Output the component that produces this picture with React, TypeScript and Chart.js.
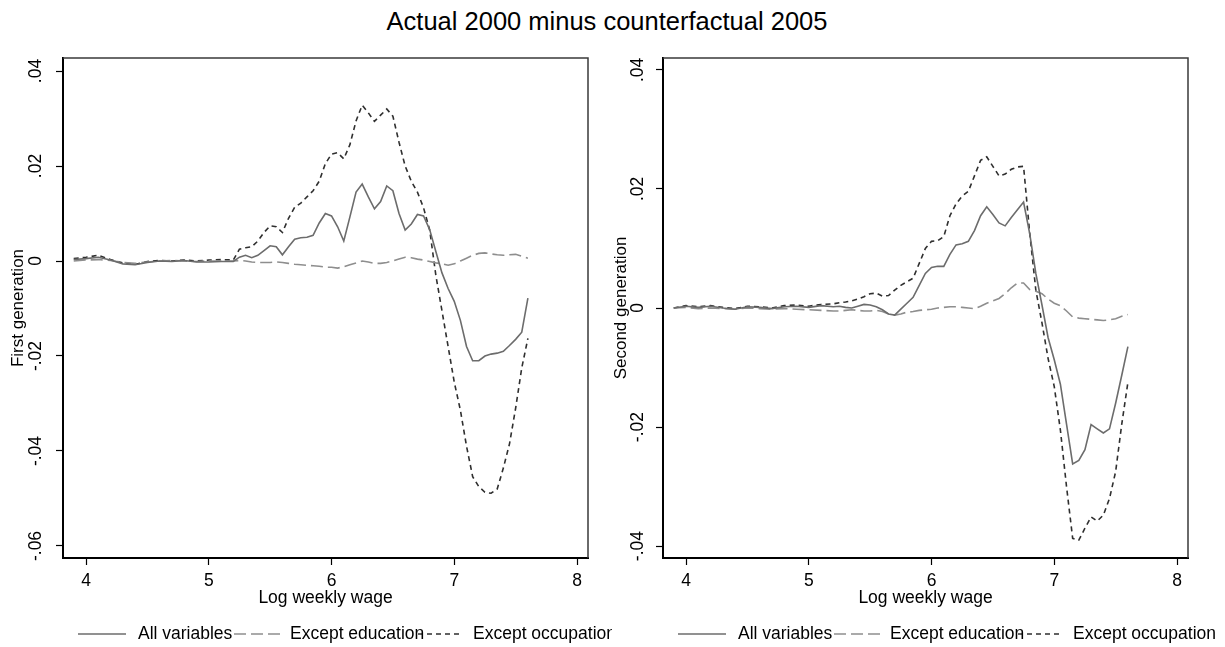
import React, { useEffect, useRef } from 'react';
import { Chart, registerables } from 'chart.js';

Chart.register(...registerables);

const FONT_FAMILY = '"Liberation Sans", Arial, Helvetica, sans-serif';

const chartTitle = 'Actual 2000 minus counterfactual 2005';
const xTitle = 'Log weekly wage';
const seriesLabels = ['All variables', 'Except education', 'Except occupation'];

// Log weekly wage grid (shared by both panels)
const xs = [
  3.9, 4.0, 4.1, 4.2, 4.3, 4.4, 4.5, 4.6, 4.7, 4.8, 4.9, 5.0, 5.1, 5.2,
  5.25, 5.3, 5.35, 5.4, 5.45, 5.5, 5.55, 5.6, 5.65, 5.7, 5.75, 5.8, 5.85, 5.9, 5.95,
  6.0, 6.05, 6.1, 6.15, 6.2, 6.25, 6.3, 6.35, 6.4, 6.45, 6.5, 6.55, 6.6, 6.65, 6.7, 6.75,
  6.8, 6.85, 6.9, 6.95, 7.0, 7.05, 7.1, 7.15, 7.2, 7.25, 7.3, 7.35, 7.4, 7.45, 7.5, 7.55, 7.6,
];

// First generation
const firstAll = [
  0.0003, 0.0005, 0.0008, 0.0002, -0.0006, -0.0008, -0.0003, 0.0000, -0.0001, 0.0001, -0.0002, -0.0002, -0.0001, -0.0001,
  0.0008, 0.0012, 0.0007, 0.0012, 0.0022, 0.0032, 0.0030, 0.0013, 0.0030, 0.0046, 0.0049, 0.0050, 0.0054, 0.0080, 0.0100,
  0.0095, 0.0072, 0.0042, 0.0093, 0.0145, 0.0162, 0.0135, 0.0110, 0.0125, 0.0158, 0.0148, 0.0100, 0.0065, 0.0078, 0.0098, 0.0095,
  0.0066, 0.0020, -0.0025, -0.0058, -0.0085, -0.0125, -0.0180, -0.0210, -0.0210, -0.0200, -0.0196, -0.0194, -0.0190, -0.0178, -0.0165, -0.0150, -0.0078,
];
const firstExEdu = [
  0.0000, 0.0002, 0.0003, 0.0001, -0.0003, -0.0005, -0.0002, 0.0000, 0.0001, 0.0000, -0.0001, 0.0000, 0.0000, 0.0000,
  0.0001, 0.0000, -0.0002, -0.0003, -0.0003, -0.0003, -0.0002, -0.0003, -0.0005, -0.0007, -0.0008, -0.0009, -0.0010, -0.0011, -0.0013,
  -0.0013, -0.0015, -0.0012, -0.0008, -0.0004, 0.0000, -0.0002, -0.0005, -0.0005, -0.0003, 0.0000, 0.0004, 0.0008, 0.0007, 0.0004, 0.0002,
  -0.0001, -0.0004, -0.0006, -0.0009, -0.0006, 0.0000, 0.0006, 0.0012, 0.0016, 0.0017, 0.0015, 0.0013, 0.0012, 0.0013, 0.0014, 0.0010, 0.0006,
];
const firstExOcc = [
  0.0005, 0.0008, 0.0012, 0.0003, -0.0004, -0.0007, -0.0001, 0.0001, 0.0000, 0.0002, 0.0000, 0.0002, 0.0003, 0.0002,
  0.0025, 0.0028, 0.0030, 0.0042, 0.0060, 0.0074, 0.0072, 0.0060, 0.0090, 0.0113, 0.0122, 0.0135, 0.0148, 0.0168, 0.0205,
  0.0225, 0.0228, 0.0215, 0.0245, 0.0295, 0.0328, 0.0312, 0.0294, 0.0307, 0.0320, 0.0305, 0.0250, 0.0200, 0.0168, 0.0145, 0.0112,
  0.0065, -0.0030, -0.0105, -0.0180, -0.0255, -0.0314, -0.0390, -0.0454, -0.0475, -0.0487, -0.0489, -0.0480, -0.0436, -0.0385, -0.0310, -0.0225, -0.0163,
];

// Second generation
const secondAll = [
  0.0000, 0.0003, 0.0001, 0.0003, 0.0000, -0.0002, 0.0002, 0.0001, -0.0001, 0.0002, 0.0003, 0.0001, 0.0004, 0.0002,
  0.0003, 0.0001, 0.0000, 0.0003, 0.0006, 0.0005, 0.0002, -0.0003, -0.0010, -0.0012, -0.0002, 0.0008, 0.0018, 0.0038, 0.0058,
  0.0068, 0.0070, 0.0070, 0.0090, 0.0106, 0.0108, 0.0112, 0.0130, 0.0155, 0.0170, 0.0157, 0.0143, 0.0138, 0.0152, 0.0165, 0.0178,
  0.0125, 0.0058, 0.0005, -0.0050, -0.0087, -0.0128, -0.0195, -0.0262, -0.0256, -0.0238, -0.0196, -0.0203, -0.0210, -0.0203, -0.0160, -0.0113, -0.0065,
];
const secondExEdu = [
  0.0000, 0.0001, -0.0001, 0.0000, -0.0001, -0.0002, 0.0000, -0.0001, -0.0002, -0.0001, -0.0002, -0.0003, -0.0004, -0.0005,
  -0.0005, -0.0004, -0.0003, -0.0004, -0.0005, -0.0005, -0.0004, -0.0006, -0.0010, -0.0012, -0.0010, -0.0007, -0.0006, -0.0004, -0.0003,
  -0.0002, 0.0000, 0.0001, 0.0002, 0.0002, 0.0001, 0.0000, -0.0001, 0.0003, 0.0008, 0.0012, 0.0016, 0.0024, 0.0034, 0.0042, 0.0042,
  0.0031, 0.0028, 0.0024, 0.0015, 0.0008, 0.0004, -0.0005, -0.0015, -0.0017, -0.0018, -0.0019, -0.0020, -0.0021, -0.0020, -0.0018, -0.0014, -0.0011,
];
const secondExOcc = [
  0.0000, 0.0004, 0.0002, 0.0004, 0.0001, -0.0001, 0.0003, 0.0002, 0.0000, 0.0004, 0.0005, 0.0003, 0.0006, 0.0007,
  0.0009, 0.0010, 0.0012, 0.0015, 0.0019, 0.0024, 0.0025, 0.0020, 0.0021, 0.0030, 0.0038, 0.0044, 0.0050, 0.0075, 0.0100,
  0.0112, 0.0113, 0.0120, 0.0155, 0.0175, 0.0188, 0.0196, 0.0222, 0.0248, 0.0254, 0.0238, 0.0222, 0.0225, 0.0233, 0.0237, 0.0238,
  0.0126, 0.0030, -0.0025, -0.0085, -0.0132, -0.0205, -0.0300, -0.0387, -0.0390, -0.0370, -0.0351, -0.0358, -0.0348, -0.0320, -0.0275, -0.0195, -0.0125,
];

const seriesColors = ['#6c6c6c', '#8e8e8e', '#2f2f2f'];
const seriesDashes: number[][] = [[], [12, 5], [5, 4]];

const fmtTick = (v: number) => {
  if (Math.abs(v) < 1e-9) return '0';
  return v.toFixed(2).replace(/^(-?)0\./, '$1.');
};

const framePlugin = {
  id: 'frame',
  afterDraw(chart: any) {
    const { ctx, chartArea } = chart;
    ctx.save();
    ctx.strokeStyle = '#3a3a3a';
    ctx.lineWidth = 1.5;
    ctx.beginPath();
    ctx.moveTo(chartArea.left, chartArea.top);
    ctx.lineTo(chartArea.right, chartArea.top);
    ctx.lineTo(chartArea.right, chartArea.bottom);
    ctx.stroke();
    ctx.restore();
  },
};

const legendPlugin = {
  id: 'stataLegend',
  afterDraw(chart: any) {
    const { ctx, chartArea } = chart;
    const L = chartArea.left;
    const y = 634;
    const samples = [
      [L + 15, L + 63, L + 75],
      [L + 171, L + 219, L + 227],
      [L + 355, L + 398, L + 410],
    ];
    ctx.save();
    samples.forEach((s, i) => {
      ctx.strokeStyle = seriesColors[i];
      ctx.lineWidth = 1.5;
      ctx.setLineDash(seriesDashes[i]);
      ctx.beginPath();
      ctx.moveTo(s[0], y);
      ctx.lineTo(s[1], y);
      ctx.stroke();
    });
    ctx.setLineDash([]);
    ctx.fillStyle = '#000';
    ctx.font = `17.5px ${FONT_FAMILY}`;
    ctx.textBaseline = 'middle';
    ctx.textAlign = 'left';
    samples.forEach((s, i) => {
      ctx.fillText(seriesLabels[i], s[2], y);
    });
    ctx.restore();
  },
};

type PanelProps = {
  width: number;
  all: number[];
  edu: number[];
  occ: number[];
  yMin: number;
  yMax: number;
  yTitle: string;
  yWidth: number;
  padRight: number;
  tickPad: number;
  titlePad: number;
};

function Panel(p: PanelProps) {
  const ref = useRef<HTMLCanvasElement>(null);
  useEffect(() => {
    if (!ref.current) return;
    const font = { family: FONT_FAMILY, size: 17.5 };
    const series = [p.all, p.edu, p.occ];
    const chart = new Chart(ref.current, {
      type: 'line',
      data: {
        datasets: series.map((vals, i) => ({
          label: seriesLabels[i],
          data: xs.map((x, j) => ({ x, y: vals[j] })),
          borderColor: seriesColors[i],
          borderWidth: 1.6,
          borderDash: seriesDashes[i],
          pointRadius: 0,
          tension: 0,
          fill: false,
        })),
      },
      options: {
        animation: false,
        responsive: false,
        maintainAspectRatio: false,
        events: [],
        layout: { padding: { top: 58, right: p.padRight, bottom: 0, left: 0 } },
        plugins: {
          legend: { display: false },
          tooltip: { enabled: false },
          title: { display: false },
        },
        scales: {
          x: {
            type: 'linear',
            min: 3.8126,
            max: 8.0896,
            ticks: {
              stepSize: 1,
              includeBounds: false,
              color: '#000',
              font,
              padding: 6,
              maxRotation: 0,
              callback: (v: any) => String(v),
            },
            grid: {
              drawOnChartArea: false,
              drawTicks: true,
              tickLength: 7,
              tickColor: '#000',
              tickWidth: 1.2,
            },
            border: { display: true, color: '#000', width: 2 },
            title: {
              display: true,
              text: xTitle,
              color: '#000',
              font: { family: FONT_FAMILY, size: 17.5, lineHeight: 1 },
              padding: { top: 0, bottom: 40 },
            },
            afterFit: (s: any) => {
              s.height = 89;
            },
          },
          y: {
            type: 'linear',
            min: p.yMin,
            max: p.yMax,
            ticks: {
              stepSize: 0.02,
              includeBounds: false,
              color: '#000',
              font,
              padding: p.tickPad,
              minRotation: 90,
              maxRotation: 90,
              crossAlign: 'center',
              callback: (v: any) => fmtTick(Number(v)),
            },
            grid: {
              drawOnChartArea: false,
              drawTicks: true,
              tickLength: 7,
              tickColor: '#000',
              tickWidth: 1.2,
            },
            border: { display: true, color: '#000', width: 2 },
            title: {
              display: true,
              text: p.yTitle,
              color: '#000',
              font: { family: FONT_FAMILY, size: 17, lineHeight: 1 },
              padding: { top: p.titlePad, bottom: 0 },
            },
            afterFit: (s: any) => {
              s.width = p.yWidth;
            },
          },
        },
      } as any,
      plugins: [framePlugin, legendPlugin],
    });
    return () => chart.destroy();
  }, []);
  return <canvas ref={ref} width={p.width} height={647} style={{ display: 'block', width: p.width, height: 647 }} />;
}

export default function App() {
  return (
    <div
      style={{
        position: 'fixed',
        left: 0,
        top: 0,
        width: 1225,
        height: 647,
        background: '#fff',
        overflow: 'hidden',
      }}
    >
      <div
        style={{
          position: 'absolute',
          left: 0,
          top: 8,
          width: 1214,
          textAlign: 'center',
          fontFamily: FONT_FAMILY,
          fontSize: 25.5,
          lineHeight: '26px',
          color: '#000',
        }}
      >
        {chartTitle}
      </div>
      <div style={{ position: 'absolute', left: 0, top: 0 }}>
        <Panel
          width={612}
          all={firstAll}
          edu={firstExEdu}
          occ={firstExOcc}
          yMin={-0.06253}
          yMax={0.04274}
          yTitle="First generation"
          yWidth={63}
          padRight={24}
          tickPad={5}
          titlePad={9.5}
        />
      </div>
      <div style={{ position: 'absolute', left: 612, top: 0 }}>
        <Panel
          width={613}
          all={secondAll}
          edu={secondExEdu}
          occ={secondExOcc}
          yMin={-0.042}
          yMax={0.042}
          yTitle="Second generation"
          yWidth={51}
          padRight={37}
          tickPad={3}
          titlePad={0.5}
        />
      </div>
    </div>
  );
}
